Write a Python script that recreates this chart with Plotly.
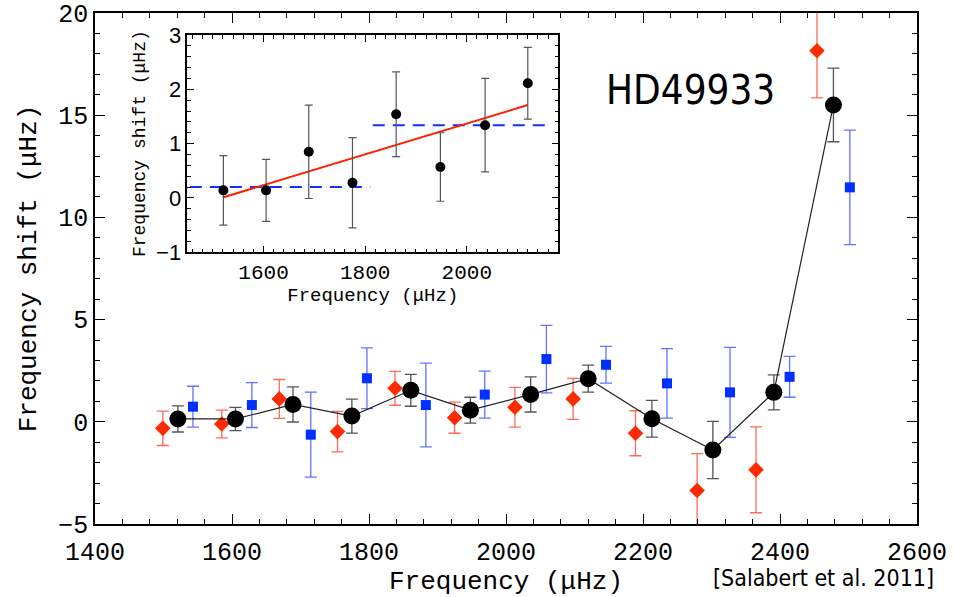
import plotly.graph_objects as go

# ---- data ----
# combined (black) points
freq_avg = [1521, 1605, 1689, 1775, 1861, 1948, 2036, 2120, 2213, 2302, 2391, 2478]
shift_avg = [0.14, 0.14, 0.85, 0.28, 1.54, 0.57, 1.34, 2.11, 0.15, -1.38, 1.44, 15.5]
err_avg = [0.64, 0.57, 0.86, 0.83, 0.78, 0.63, 0.86, 0.66, 0.90, 1.40, 0.86, 1.80]

# red diamonds
freq_red = [1499, 1585, 1669, 1754, 1838, 1925, 2013, 2098, 2189, 2279, 2365, 2454]
shift_red = [-0.32, -0.11, 1.12, -0.48, 1.64, 0.20, 0.71, 1.12, -0.56, -3.36, -2.35, 18.15]
err_red = [0.84, 0.68, 0.95, 0.99, 0.83, 0.76, 0.97, 1.00, 1.10, 1.80, 2.10, 2.30]

# blue squares
freq_blue = [1543, 1629, 1715, 1797, 1883, 1969, 2059, 2146, 2235, 2327, 2414, 2502]
shift_blue = [0.74, 0.82, -0.63, 2.13, 0.82, 1.33, 3.07, 2.79, 1.88, 1.44, 2.20, 11.47]
err_blue = [1.00, 1.10, 2.08, 1.49, 2.05, 1.15, 1.65, 0.90, 1.70, 2.20, 1.00, 2.80]

# inset data (first eight combined points)
freq_in = freq_avg[:8]
shift_in = shift_avg[:8]
err_in = err_avg[:8]

# linear fit and two-level step in the inset
fit_freq = [1520, 2120]
fit_shift = [0.01, 1.71]
low_freq = [1455, 1810]
low_shift = [0.20, 0.20]
high_freq = [1815, 2160]
high_shift = [1.34, 1.34]

MONO = "Liberation Mono"
COND = "DejaVu Sans Condensed, Liberation Sans Narrow, Liberation Sans"

fig = go.Figure()

fig.add_trace(go.Scatter(
    x=freq_red, y=shift_red, mode="markers",
    marker=dict(symbol="diamond", size=12, color="#ff2a00"),
    error_y=dict(type="data", array=err_red, color="rgba(255,90,70,0.9)", thickness=1.3, width=6),
    showlegend=False))

fig.add_trace(go.Scatter(
    x=freq_blue, y=shift_blue, mode="markers",
    marker=dict(symbol="square", size=10, color="#0030ff"),
    error_y=dict(type="data", array=err_blue, color="rgba(80,100,255,0.9)", thickness=1.3, width=6),
    showlegend=False))

fig.add_trace(go.Scatter(
    x=freq_avg, y=shift_avg, mode="lines+markers",
    line=dict(color="#222222", width=1.2),
    marker=dict(symbol="circle", size=17, color="black"),
    error_y=dict(type="data", array=err_avg, color="#555555", thickness=1.3, width=6),
    showlegend=False))

# inset
fig.add_trace(go.Scatter(
    x=low_freq, y=low_shift, mode="lines", xaxis="x2", yaxis="y2",
    line=dict(color="#1030ff", width=2, dash="12px,8px"), showlegend=False))
fig.add_trace(go.Scatter(
    x=high_freq, y=high_shift, mode="lines", xaxis="x2", yaxis="y2",
    line=dict(color="#1030ff", width=2, dash="12px,8px"), showlegend=False))
fig.add_trace(go.Scatter(
    x=fit_freq, y=fit_shift, mode="lines", xaxis="x2", yaxis="y2",
    line=dict(color="#ff2000", width=2), showlegend=False))
fig.add_trace(go.Scatter(
    x=freq_in, y=shift_in, mode="markers", xaxis="x2", yaxis="y2",
    marker=dict(symbol="circle", size=10, color="black"),
    error_y=dict(type="data", array=err_in, color="#555555", thickness=1.2, width=4),
    showlegend=False))

axis_common = dict(showline=True, linecolor="black", linewidth=1.5, mirror="ticks",
                   showgrid=False, zeroline=False, ticks="inside", tickcolor="black",
                   automargin=False)

fig.update_layout(
    width=953, height=597,
    margin=dict(l=95, r=36, t=13, b=73),
    paper_bgcolor="white", plot_bgcolor="white",
    xaxis=dict(**axis_common, domain=[0, 1], anchor="y", range=[1400, 2600],
               dtick=200, ticklen=10, tickwidth=1.2, ticklabelstandoff=4,
               minor=dict(dtick=40, ticklen=5, ticks="inside", tickcolor="black"),
               tickfont=dict(family=MONO, size=25, color="black"),
               title=dict(text="Frequency (μHz)", font=dict(family=MONO, size=26, color="black"),
                          standoff=8)),
    yaxis=dict(**axis_common, domain=[0, 1], anchor="x", range=[-5, 20],
               dtick=5, ticklen=10, tickwidth=1.2,
               minor=dict(dtick=1, ticklen=5, ticks="inside", tickcolor="black"),
               tickfont=dict(family=MONO, size=25, color="black"),
               title=dict(text="Frequency shift (μHz)", font=dict(family=MONO, size=26, color="black"),
                          standoff=14)),
    xaxis2=dict(**axis_common, domain=[0.1123, 0.5636], anchor="y2", range=[1450, 2180],
                tickvals=[1600, 1800, 2000], ticklen=7,
                minor=dict(dtick=20, ticklen=4, ticks="inside", tickcolor="black"),
                tickfont=dict(family=MONO, size=21, color="black"),
                title=dict(text="Frequency (μHz)", font=dict(family=MONO, size=19, color="black"),
                           standoff=2)),
    yaxis2=dict(**axis_common, domain=[0.5317, 0.957], anchor="x2", range=[-1, 3],
                dtick=1, ticklen=7,
                minor=dict(dtick=0.2, ticklen=4, ticks="inside", tickcolor="black"),
                tickfont=dict(family="Liberation Sans", size=22, color="black"),
                title=dict(text="Frequency shift (μHz)", font=dict(family=MONO, size=18, color="black"),
                           standoff=6)),
    annotations=[
        dict(text="HD49933", xref="paper", yref="paper", x=0.724, y=0.849,
             xanchor="center", yanchor="middle", showarrow=False,
             font=dict(family=COND, size=40, color="black")),
        dict(text="[Salabert et al. 2011]", xref="paper", yref="paper", x=0.886, y=-0.106,
             xanchor="center", yanchor="middle", showarrow=False,
             font=dict(family=COND, size=23, color="black")),
    ],
)

fig.write_html("out.html", config={"displayModeBar": False},
               post_script="document.body.style.margin='0';")
